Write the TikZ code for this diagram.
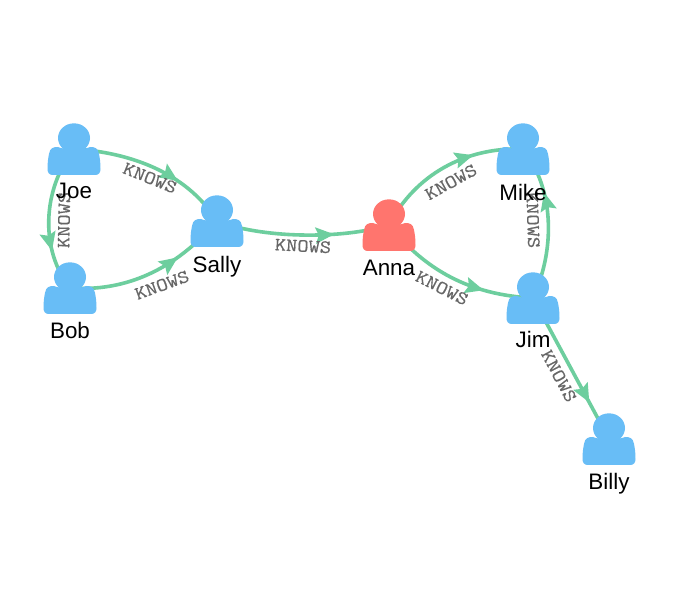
\documentclass[tikz,border=0pt]{standalone}
\usepackage{fontspec}
\setmainfont{Liberation Sans}
\newfontfamily\knowsfont[FakeStretch=1.17,FakeBold=0.6]{Latin Modern Mono}
\usetikzlibrary{arrows.meta,decorations.markings}
\definecolor{edgegreen}{HTML}{6DCE9E}
\definecolor{personblue}{HTML}{68BDF6}
\definecolor{personred}{HTML}{FF756E}
\definecolor{knowsgray}{HTML}{666666}
\newcommand{\persondraw}[1]{%
  \begin{scope}[shift={(path picture bounding box.center)}]
    \fill[#1] (0,-11) ellipse [x radius=12pt,y radius=11pt];
    \fill[#1] (-16,-2) .. controls (-21,-2) and (-24,-1) .. (-25,5)
      .. controls (-26,10) and (-26.5,14) .. (-26.5,20)
      .. controls (-26.5,24) and (-24.5,26) .. (-21,26)
      -- (21,26)
      .. controls (24.5,26) and (26.5,24) .. (26.5,20)
      .. controls (26.5,14) and (26,10) .. (25,5)
      .. controls (24,-1) and (21,-2) .. (16,-2)
      .. controls (10,1) and (-10,1) .. (-16,-2) -- cycle;
  \end{scope}}
\tikzset{
  personbase/.style={minimum width=40pt,minimum height=39.5pt,inner sep=0pt,outer sep=0pt},
  bluenode/.style={personbase,path picture={\persondraw{personblue}}},
  rednode/.style={personbase,path picture={\persondraw{personred}}},
  namelabel/.style={font=\fontsize{16.8pt}{18pt}\selectfont,text=black,inner sep=0pt,anchor=base},
  knowslabel/.style={font=\knowsfont\fontsize{14pt}{15pt}\selectfont,text=knowsgray,inner sep=0pt},
  knows/.style={draw=edgegreen,line width=2.7pt,postaction={decorate},
    decoration={markings,mark=at position #1 with {\arrow[edgegreen,line width=0pt]{Stealth[length=14pt,width=12.5pt,inset=2.5pt]}}}}
}
\begin{document}
\begin{tikzpicture}[x=0.75pt,y=-0.75pt]
\fill[white] (0,0) rectangle (679,591);
\useasboundingbox (0,0) rectangle (679,591);
% connector end points: centres of the person nodes
\coordinate (joe) at (74,149);
\coordinate (bob) at (70,288);
\coordinate (sally) at (217,221);
\coordinate (anna) at (389,225);
\coordinate (mike) at (523,149);
\coordinate (jim) at (533,298);
\coordinate (billy) at (609,439);
% connectors
\draw[knows=0.66] (joe) .. controls (125,152) and (185,170) .. (sally);
\draw[knows=0.72] (joe) .. controls (42,190) and (40,250) .. (bob);
\draw[knows=0.68] (bob) .. controls (125,292) and (175,270) .. (sally);
\draw[knows=0.68] (sally) .. controls (260,238) and (340,240) .. (anna);
\draw[knows=0.69] (anna) .. controls (415,175) and (465,147) .. (mike);
\draw[knows=0.70] (anna) .. controls (425,270) and (470,295) .. (jim);
\draw[knows=0.69] (jim) .. controls (555,250) and (555,190) .. (mike);
\draw[knows=0.74] (jim) -- (billy);
% persons
\node[bluenode] (joeN) at (joe) {};
\node[bluenode] (bobN) at (bob) {};
\node[bluenode] (sallyN) at (sally) {};
\node[rednode] (annaN) at (anna) {};
\node[bluenode] (mikeN) at (mike) {};
\node[bluenode] (jimN) at (jim) {};
\node[bluenode] (billyN) at (billy) {};
% relationship labels
\node[knowslabel,rotate=-22] (k1) at (150,178) {KNOWS};
\node[knowslabel,rotate=89] (k2) at (64,220) {KNOWS};
\node[knowslabel,rotate=20] (k3) at (162,285) {KNOWS};
\node[knowslabel,rotate=-3] (k4) at (303,246) {KNOWS};
\node[knowslabel,rotate=29] (k5) at (451,182) {KNOWS};
\node[knowslabel,rotate=-27] (k6) at (442,288) {KNOWS};
\node[knowslabel,rotate=-88] (k7) at (533,220) {KNOWS};
\node[knowslabel,rotate=-62] (k8) at (559,376) {KNOWS};
% names
\node[namelabel] (joeL) at (74,198.5) {Joe};
\node[namelabel] (bobL) at (70,338.5) {Bob};
\node[namelabel] (sallyL) at (217,272.5) {Sally};
\node[namelabel] (annaL) at (389,275.5) {Anna};
\node[namelabel] (mikeL) at (523,200.5) {Mike};
\node[namelabel] (jimL) at (533,348) {Jim};
\node[namelabel] (billyL) at (609,490) {Billy};
\end{tikzpicture}
\end{document}
